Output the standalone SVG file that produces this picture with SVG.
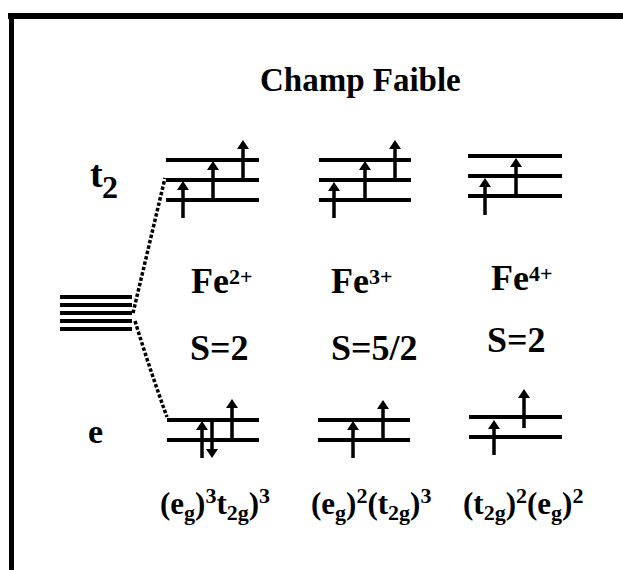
<svg xmlns="http://www.w3.org/2000/svg" width="623" height="570" viewBox="0 0 623 570">
<style>
text{font-family:"Liberation Serif","Times New Roman",serif;font-weight:bold;fill:#000}
.lv{stroke:#000;stroke-width:4;fill:none}
.ar{stroke:#000;stroke-width:3.5;fill:none;marker-end:url(#ah)}
.dot{stroke:#000;stroke-width:3.5;stroke-dasharray:3.5 2;fill:none}
.big{font-size:36px;font-family:"Liberation Serif","Times New Roman",serif}
.sup{font-size:22px}
.f{font-size:31px}
.s{font-size:22px}
</style>
<defs>
<marker id="ah" markerUnits="userSpaceOnUse" markerWidth="9" markerHeight="12" viewBox="0 0 9 12" refX="3" refY="6" orient="auto">
<path d="M0,0 L9,6 L0,12 z" fill="#000"/>
</marker>
</defs>
<rect width="623" height="570" fill="#fff"/>
<g id="frame">
<rect x="8" y="13" width="615" height="6" fill="#000"/>
<rect x="9" y="13" width="5" height="557" fill="#000"/>
</g>
<g id="title"><text x="260" y="91" font-size="33">Champ Faible</text></g>
<g id="label-t2"><text x="90" y="187" font-size="38">t<tspan x="102" y="198" font-size="32">2</tspan></text></g>
<g id="label-e"><text x="88" y="443" font-size="34">e</text></g>
<g id="free-ion">
<line class="lv" x1="60" y1="297" x2="132" y2="297"/>
<line class="lv" x1="60" y1="305" x2="132" y2="305"/>
<line class="lv" x1="60" y1="313" x2="132" y2="313"/>
<line class="lv" x1="60" y1="321" x2="132" y2="321"/>
<line class="lv" x1="60" y1="329" x2="132" y2="329"/>
</g>
<g id="connectors">
<path class="dot" d="M133,313 L165,178"/>
<path class="dot" d="M135,321 Q150,370 167,417"/>
</g>
<g id="fe2-t2">
<line class="lv" x1="166" y1="160" x2="259" y2="160"/>
<line class="lv" x1="166" y1="180" x2="259" y2="180"/>
<line class="lv" x1="166" y1="200" x2="259" y2="200"/>
<line class="ar" x1="183" y1="218" x2="183" y2="187"/>
<line class="ar" x1="213" y1="200" x2="213" y2="167"/>
<line class="ar" x1="243" y1="180" x2="243" y2="146"/>
</g>
<g id="fe3-t2">
<line class="lv" x1="319" y1="160" x2="411" y2="160"/>
<line class="lv" x1="319" y1="180" x2="411" y2="180"/>
<line class="lv" x1="319" y1="200" x2="411" y2="200"/>
<line class="ar" x1="334" y1="218" x2="334" y2="188"/>
<line class="ar" x1="365" y1="200" x2="365" y2="167"/>
<line class="ar" x1="395" y1="180" x2="395" y2="146"/>
</g>
<g id="fe4-t2">
<line class="lv" x1="468" y1="156" x2="562" y2="156"/>
<line class="lv" x1="468" y1="176" x2="562" y2="176"/>
<line class="lv" x1="468" y1="196" x2="562" y2="196"/>
<line class="ar" x1="485" y1="215" x2="485" y2="184"/>
<line class="ar" x1="516" y1="196" x2="516" y2="164"/>
</g>
<g id="fe2-e">
<line class="lv" x1="167" y1="420" x2="259" y2="420"/>
<line class="lv" x1="167" y1="440" x2="259" y2="440"/>
<line class="ar" x1="202" y1="458" x2="202" y2="427"/>
<line class="ar" x1="212" y1="420" x2="212" y2="452"/>
<line class="ar" x1="232" y1="440" x2="232" y2="405"/>
</g>
<g id="fe3-e">
<line class="lv" x1="318" y1="420" x2="410" y2="420"/>
<line class="lv" x1="318" y1="440" x2="410" y2="440"/>
<line class="ar" x1="353" y1="458" x2="353" y2="427"/>
<line class="ar" x1="383" y1="440" x2="383" y2="406"/>
</g>
<g id="fe4-e">
<line class="lv" x1="469" y1="417" x2="562" y2="417"/>
<line class="lv" x1="469" y1="437" x2="562" y2="437"/>
<line class="ar" x1="494" y1="455" x2="494" y2="426"/>
<line class="ar" x1="524" y1="428" x2="524" y2="395"/>
</g>
<g id="fe2-label">
<text class="big" x="191" y="293">Fe<tspan class="sup" dy="-9">2+</tspan></text>
<text class="big" x="190" y="360">S=2</text>
<text class="f" x="160" y="514">(e<tspan class="s" dy="6">g</tspan><tspan dy="-6">)</tspan><tspan class="s" dy="-11">3</tspan><tspan dy="11">t</tspan><tspan class="s" dy="6">2g</tspan><tspan dy="-6">)</tspan><tspan class="s" dy="-11">3</tspan></text>
</g>
<g id="fe3-label">
<text class="big" x="331" y="293">Fe<tspan class="sup" dy="-9">3+</tspan></text>
<text class="big" x="331" y="360">S=5/2</text>
<text class="f" x="311" y="514">(e<tspan class="s" dy="6">g</tspan><tspan dy="-6">)</tspan><tspan class="s" dy="-11">2</tspan><tspan dy="11">(t</tspan><tspan class="s" dy="6">2g</tspan><tspan dy="-6">)</tspan><tspan class="s" dy="-11">3</tspan></text>
</g>
<g id="fe4-label">
<text class="big" x="491" y="290">Fe<tspan class="sup" dy="-9">4+</tspan></text>
<text class="big" x="487" y="352">S=2</text>
<text class="f" x="463" y="514">(t<tspan class="s" dy="6">2g</tspan><tspan dy="-6">)</tspan><tspan class="s" dy="-11">2</tspan><tspan dy="11">(e</tspan><tspan class="s" dy="6">g</tspan><tspan dy="-6">)</tspan><tspan class="s" dy="-11">2</tspan></text>
</g>
</svg>
